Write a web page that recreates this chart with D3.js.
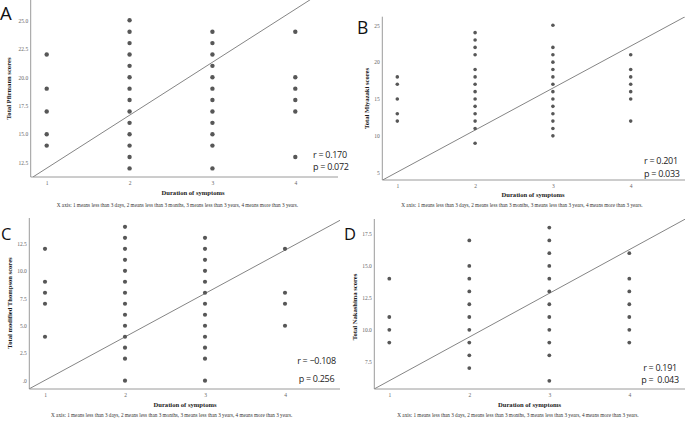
<!DOCTYPE html>
<html>
<head>
<meta charset="utf-8">
<script src="https://cdn.jsdelivr.net/npm/d3@7"></script>
<style>
  body { margin: 0; background: #fff; }
  .tick text { font-family: "Liberation Serif", "DejaVu Serif", serif; fill: #666; }
</style>
</head>
<body>
<svg id="chart" width="685" height="421"></svg>
<script>
// duration of symptoms groups on the x axis
var durationGroups = [1, 2, 3, 4];
var xNote = "X axis: 1 means less than 3 days, 2 means less than 3 months, 3 means less than 3 years, 4 means more than 3 years.";

// scores per duration group (group 1..4)
var pfirmannScores = [
    [22, 19, 17, 15, 14],
    [25, 24, 23, 22, 21, 20, 19, 18, 17, 16, 15, 14, 13, 12],
    [24, 23, 22, 21, 20, 19, 18, 17, 16, 15, 14, 12],
    [24, 20, 19, 18, 17, 13]
];
var miyazakiScores = [
    [18, 17, 15, 13, 12],
    [24, 23, 22, 21, 19, 18, 17, 16, 15, 14, 13, 12, 11, 9],
    [25, 22, 21, 20, 19, 18, 17, 16, 15, 14, 13, 12, 11, 10],
    [21, 19, 18, 17, 16, 15, 12]
];
var thompsonScores = [
    [12, 9, 8, 7, 4],
    [14, 13, 12, 11, 10, 9, 8, 7, 6, 5, 4, 3, 2, 0],
    [13, 12, 11, 10, 9, 8, 7, 6, 5, 4, 3, 2, 0],
    [12, 8, 7, 5]
];
var nakashimaScores = [
    [14, 11, 10, 9],
    [17, 15, 14, 13, 12, 11, 10, 9, 8, 7],
    [18, 17, 16, 15, 14, 13, 12, 11, 10, 9, 8, 6],
    [16, 14, 13, 12, 11, 10, 9]
];

// y tick labels
var pfirmannTicks = [12.5, 15, 17.5, 20, 22.5, 25];
var miyazakiTicks = [5, 10, 15, 20, 25];
var thompsonTicks = [0, 2.5, 5, 7.5, 10, 12.5];
var nakashimaTicks = [7.5, 10, 12.5, 15, 17.5];

// drawn reference line, two points in data units [duration, score]
var pfirmannLine = [[0.835, 11.25], [4.6, 28.76]];
var miyazakiLine = [[0.81, 4.0], [4.70, 26.17]];
var thompsonLine = [[0.80, -0.75], [4.69, 14.6]];
var nakashimaLine = [[0.81, 5.36], [4.70, 18.67]];

var rValues = ["r = 0.170", "r = 0.201", "r = \u22120.108", "r = 0.191"];
var pValues = ["p = 0.072", "p = 0.033", "p = 0.256", "p =\u00a0 0.043"];

var svg = d3.select("#chart");

var panels = [
    { letter: "A", ylabel: "Total Pfirmann scores", scores: pfirmannScores, ticks: pfirmannTicks, fit: pfirmannLine,
      fmt: d3.format(".1f"), left: 30.7, right: 338, top: 0, bottom: 177,
      xPx: [46.7, 295.3], yRef: [12.5, 25], yPx: [162.7, 20.3], r: 2.2,
      letterPos: [0, 19.5, 18.5], ylabelPos: [11, 88.5], xlabelPos: [193, 195], notePos: [177.5, 206.7],
      statPos: [313, 157.6, 170.3, "start"] },
    { letter: "B", ylabel: "Total Miyazaki scores", scores: miyazakiScores, ticks: miyazakiTicks, fit: miyazakiLine,
      fmt: d3.format("d"), left: 382.3, right: 685, top: 16.7, bottom: 180,
      xPx: [397.3, 630.7], yRef: [5, 25], yPx: [172.7, 25.3], r: 1.8,
      letterPos: [357, 34, 17.5], ylabelPos: [369, 98.5], xlabelPos: [533, 197], notePos: [522, 207],
      statPos: [644, 164, 176.7, "start"] },
    { letter: "C", ylabel: "Total modified Thompson  scores", scores: thompsonScores, ticks: thompsonTicks, fit: thompsonLine,
      fmt: function(d) { return d === 0 ? ".0" : d3.format(".1f")(d); }, left: 29.3, right: 340, top: 218, bottom: 389,
      xPx: [45, 285], yRef: [0, 12.5], yPx: [380.7, 243.3], r: 2.1,
      letterPos: [1, 240, 16.5], ylabelPos: [11.5, 303], xlabelPos: [185, 406.7], notePos: [171.7, 417.3],
      statPos: [316.5, 364.3, 381.7, "middle"] },
    { letter: "D", ylabel: "Total Nakashima scores", scores: nakashimaScores, ticks: nakashimaTicks, fit: nakashimaLine,
      fmt: d3.format(".1f"), left: 374.3, right: 685, top: 219, bottom: 389,
      xPx: [389.3, 629.3], yRef: [7.5, 17.5], yPx: [361.7, 234], r: 1.9,
      letterPos: [344, 240, 16.5], ylabelPos: [356.5, 307], xlabelPos: [529.5, 406.7], notePos: [518, 417.3],
      statPos: [660, 370.6, 383.3, "middle"] }
];

panels.forEach(function(p, i) { drawPanel(p, i); });

function drawPanel(p, i) {
    var g = svg.append("g");

    var x = d3.scaleLinear().domain([1, 4]).range(p.xPx);
    var y = d3.scaleLinear().domain(p.yRef).range(p.yPx);

    // clip the reference line to the plot box
    svg.append("defs").append("clipPath")
        .attr("id", "clip" + i)
        .append("rect")
        .attr("x", p.left).attr("y", p.top)
        .attr("width", p.right - p.left).attr("height", p.bottom - p.top);

    // axis lines
    g.append("line")
        .attr("x1", p.left).attr("x2", p.left)
        .attr("y1", p.top).attr("y2", p.bottom)
        .style("stroke", "#9a9a9a").style("stroke-width", 1);
    g.append("line")
        .attr("x1", p.left).attr("x2", p.right)
        .attr("y1", p.bottom).attr("y2", p.bottom)
        .style("stroke", "#9a9a9a").style("stroke-width", 1);

    // tick labels
    var yAxis = g.append("g")
        .attr("transform", "translate(" + (p.left - 1.5) + ",0)")
        .call(d3.axisLeft(y).tickValues(p.ticks).tickFormat(p.fmt).tickSize(0).tickPadding(1));
    yAxis.select(".domain").remove();
    yAxis.selectAll("text").style("font-size", "5.5px");

    var xAxis = g.append("g")
        .attr("transform", "translate(0," + p.bottom + ")")
        .call(d3.axisBottom(x).tickValues(durationGroups).tickFormat(d3.format("d")).tickSize(0).tickPadding(4));
    xAxis.select(".domain").remove();
    xAxis.selectAll("text").style("font-size", "5.5px");

    // fit line
    var line = d3.line()
        .x(function(d) { return x(d[0]); })
        .y(function(d) { return y(d[1]); });
    g.append("path")
        .datum(p.fit)
        .attr("d", line)
        .attr("clip-path", "url(#clip" + i + ")")
        .style("fill", "none")
        .style("stroke", "#858585")
        .style("stroke-width", 1);

    // points
    var points = [];
    p.scores.forEach(function(list, k) {
        list.forEach(function(v) { points.push({ group: durationGroups[k], score: v }); });
    });
    g.selectAll(".dot")
        .data(points)
        .enter().append("circle")
        .attr("class", "dot")
        .attr("cx", function(d) { return x(d.group); })
        .attr("cy", function(d) { return y(d.score); })
        .attr("r", p.r)
        .style("fill", "#575757");

    // panel letter
    g.append("text")
        .attr("x", p.letterPos[0]).attr("y", p.letterPos[1])
        .style("font-family", "'Open Sans', sans-serif")
        .style("font-size", p.letterPos[2] + "px")
        .style("fill", "#111")
        .text(p.letter);

    // axis titles
    g.append("text")
        .attr("transform", "translate(" + p.ylabelPos[0] + "," + p.ylabelPos[1] + ") rotate(-90)")
        .style("text-anchor", "middle")
        .style("font-family", "'Liberation Serif', serif")
        .style("font-weight", "bold")
        .style("font-size", "6.6px")
        .style("fill", "#1a1a1a")
        .text(p.ylabel);

    g.append("text")
        .attr("x", p.xlabelPos[0]).attr("y", p.xlabelPos[1])
        .style("text-anchor", "middle")
        .style("font-family", "'Liberation Serif', serif")
        .style("font-weight", "bold")
        .style("font-size", "6.6px")
        .style("fill", "#1a1a1a")
        .text("Duration of symptoms");

    g.append("text")
        .attr("x", p.notePos[0]).attr("y", p.notePos[1])
        .style("text-anchor", "middle")
        .style("font-family", "'Liberation Serif', serif")
        .style("font-size", "5.2px")
        .style("fill", "#333")
        .text(xNote);

    // r and p
    [rValues[i], pValues[i]].forEach(function(s, k) {
        g.append("text")
            .attr("x", p.statPos[0]).attr("y", p.statPos[1 + k])
            .style("text-anchor", p.statPos[3])
            .style("font-family", "'Open Sans', sans-serif")
            .style("font-size", "9px")
            .style("letter-spacing", "-0.3px")
            .style("fill", "#222")
            .text(s);
    });
}
</script>
</body>
</html>
